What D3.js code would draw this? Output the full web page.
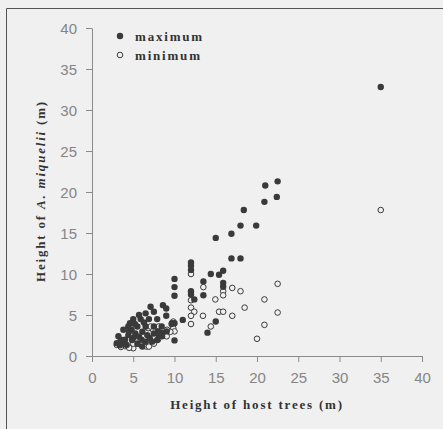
<!DOCTYPE html>
<html>
<head>
<meta charset="utf-8">
<script src="https://cdn.jsdelivr.net/npm/d3@7"></script>
<style>
	html, body { margin: 0; padding: 0; background: #f0f0f0; }
	svg { display: block; }
	.tick-label { font-family: 'Liberation Sans', Arial, sans-serif; font-size: 15px; fill: #858585; }
	.title { font-family: 'Liberation Serif', 'DejaVu Serif', serif; font-weight: bold; font-size: 13px; fill: #333; letter-spacing: 1.8px; }
</style>
</head>
<body>
<div id="chart"></div>
<script>
// host tree height (m) and epiphyte height (m)
const maxHost = [35, 22.5, 21, 22.4, 20.9, 18.4, 18, 19.9, 16.9, 15, 16.9, 18, 12, 12, 12, 10, 10, 10,
	14.4, 15.4, 15.9, 15.9, 15.9, 13.5, 13.5, 12, 12, 12.4, 11, 15, 14, 10, 10, 9.7, 8.6, 9, 9, 7.1,
	7.5, 6.5, 6.9, 5.9, 5, 5.7, 7.9, 7.5, 6.5, 5.5, 4.4, 3.8, 3.2, 3, 3.6, 4.2, 4.85, 5.7, 4.4, 5.25,
	6.1, 6.7, 6.5, 6.1, 7.3, 7.9, 8.1, 7.5, 8.45, 8.45, 9.05, 9.65, 4, 5, 3.5, 4.5, 5.5, 6, 4, 4.8,
	8, 8.5, 7, 3.4, 4.6, 5.2, 6.3];
const maxHeight = [32.8, 21.3, 20.8, 19.4, 18.8, 17.8, 15.9, 15.9, 14.9, 14.4, 11.9, 11.9, 11.4, 11, 10.5, 9.4, 8.4, 7.35,
	10, 9.9, 10.4, 8.9, 8.45, 9.1, 7.4, 7.9, 7.5, 6.9, 4.4, 4.2, 2.85, 1.9, 4, 4, 6.2, 5.8, 4.9, 6,
	5.4, 5.2, 4.5, 4.5, 4.5, 5, 4.5, 3.6, 3.6, 3.6, 3.6, 3.2, 2.4, 1.55, 1.75, 1.35, 1.95, 2.35, 2.55, 2.75,
	2.95, 2.55, 1.75, 1.15, 1.75, 1.95, 2.55, 2.75, 3.6, 2.8, 3, 3.9, 2, 2.2, 2, 3, 1.5, 2, 1.5, 3.2,
	3, 2.4, 2.2, 1.3, 4, 3.9, 4.1];
const minHost = [35, 22.5, 17, 18, 18.5, 20.9, 17, 22.5, 20.9, 20, 12, 15.9, 15.9, 13.5, 12, 12, 12.4,
	12, 12, 13.45, 14.95, 15.4, 15.9, 14.4, 9.85, 9.85, 10, 9.05, 9.5, 9.1, 8.7, 6.8, 7.4, 7.1, 9.05,
	8.1, 3, 6.6, 6.9, 5, 4, 5.5, 7.5, 4.5, 6, 3.5, 8, 7, 5];
const minHeight = [17.8, 8.8, 8.3, 7.9, 5.9, 6.9, 4.9, 5.3, 3.8, 2.1, 10, 7.9, 7.4, 8.4, 6.8, 5.9, 5.4,
	4.9, 3.9, 4.9, 6.9, 5.4, 5.4, 3.6, 4.2, 3.4, 3, 2.75, 2.95, 3.2, 2.75, 3.4, 3.2, 3.6, 2.4,
	3.6, 1.35, 1.15, 1.15, 0.95, 1.2, 1.5, 1.5, 1, 1.3, 1.1, 2, 2, 1.5];
const xTicks = [0, 5, 10, 15, 20, 25, 30, 35, 40];
const yTicks = [0, 5, 10, 15, 20, 25, 30, 35, 40];
const legendItems = ['maximum', 'minimum'];

const width = 443;
const height = 429;
const dotColor = '#3a3a3a';

const svg = d3.select('#chart')
	.append('svg')
	.attr('width', width)
	.attr('height', height);

svg.append('rect')
	.attr('width', width)
	.attr('height', height)
	.attr('fill', '#f0f0f0');

// frame (top and left edges only)
svg.append('path')
	.attr('d', 'M6.5,429V8.5H443')
	.attr('fill', 'none')
	.attr('stroke', '#555')
	.attr('stroke-width', 1);

const x = d3.scaleLinear().domain([0, 40]).range([92, 422]);
const y = d3.scaleLinear().domain([0, 40]).range([356, 28]);

const xAxis = svg.append('g')
	.attr('transform', `translate(0,${y(0)})`)
	.call(d3.axisBottom(x).tickValues(xTicks).tickSize(6).tickPadding(6).tickSizeOuter(0));
const yAxis = svg.append('g')
	.attr('transform', `translate(${x(0)},0)`)
	.call(d3.axisLeft(y).tickValues(yTicks).tickSize(6).tickPadding(9).tickSizeOuter(0));

[xAxis, yAxis].forEach((a) => {
	a.select('.domain').attr('stroke', '#8a8a8a');
	a.selectAll('.tick line').attr('stroke', '#8a8a8a');
	a.selectAll('.tick text')
		.attr('class', 'tick-label')
		.attr('fill', null);
	a.attr('font-family', null).attr('font-size', null);
});
xAxis.selectAll('.tick text').attr('dy', '1em');
yAxis.selectAll('.tick text').attr('dy', '0.36em');

const maxData = maxHost.map((h, i) => ({ host: h, value: maxHeight[i] }));
const minData = minHost.map((h, i) => ({ host: h, value: minHeight[i] }));

svg.append('g')
	.selectAll('circle')
	.data(minData)
	.enter()
	.append('circle')
	.attr('cx', (d) => x(d.host))
	.attr('cy', (d) => y(d.value))
	.attr('r', 2.8)
	.attr('fill', '#f0f0f0')
	.attr('stroke', dotColor)
	.attr('stroke-width', 1);

svg.append('g')
	.selectAll('circle')
	.data(maxData)
	.enter()
	.append('circle')
	.attr('cx', (d) => x(d.host))
	.attr('cy', (d) => y(d.value))
	.attr('r', 3.2)
	.attr('fill', dotColor);

// legend
const legend = svg.append('g')
	.selectAll('g')
	.data(legendItems)
	.enter()
	.append('g')
	.attr('transform', (d, i) => `translate(120,${36 + i * 19})`);
legend.append('circle')
	.attr('r', (d, i) => (i === 0 ? 3.2 : 2.8))
	.attr('fill', (d, i) => (i === 0 ? dotColor : 'none'))
	.attr('stroke', (d, i) => (i === 0 ? 'none' : dotColor));
legend.append('text')
	.attr('class', 'title')
	.attr('x', 15)
	.attr('dy', '0.35em')
	.text((d) => d);

// axis titles
svg.append('text')
	.attr('class', 'title')
	.attr('x', 257)
	.attr('y', 409)
	.attr('text-anchor', 'middle')
	.text('Height of host trees (m)');

const yTitle = svg.append('text')
	.attr('class', 'title')
	.attr('text-anchor', 'middle')
	.attr('transform', 'translate(45,191) rotate(-90)');
yTitle.append('tspan').text('Height of ');
yTitle.append('tspan').attr('font-style', 'italic').text('A. miquelii');
yTitle.append('tspan').text(' (m)');
</script>
</body>
</html>
